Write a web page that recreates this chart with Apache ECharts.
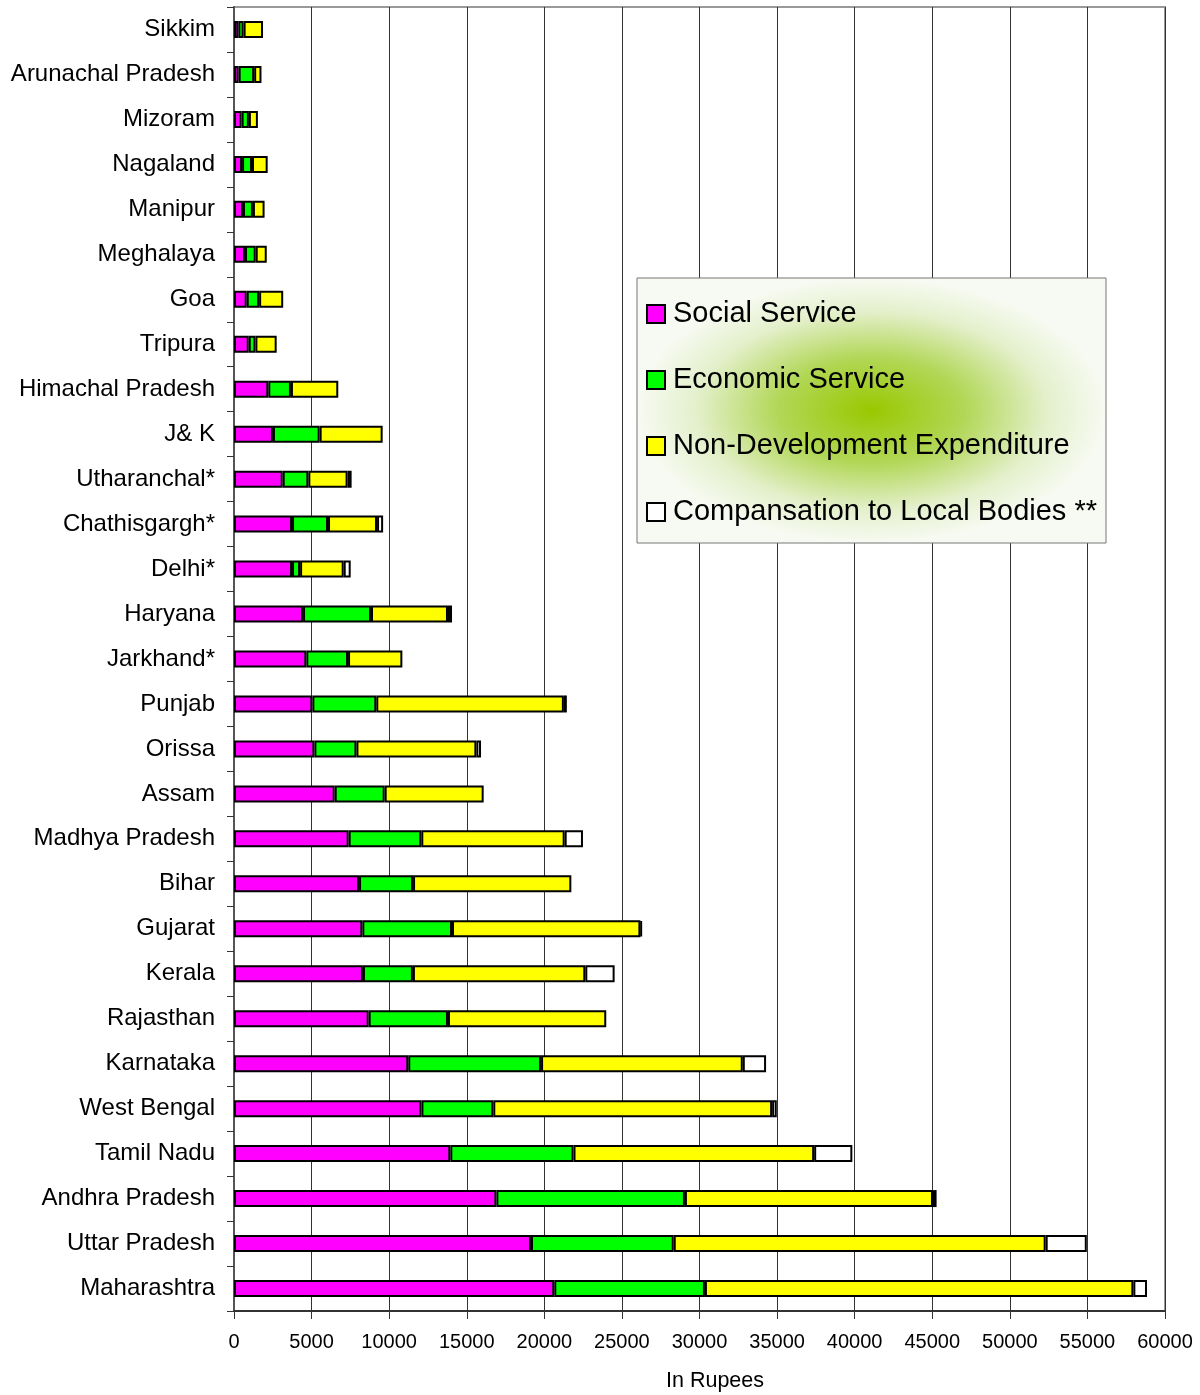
<!DOCTYPE html>
<html>
<head>
<meta charset="utf-8">
<title>State expenditure</title>
<script src="https://cdn.jsdelivr.net/npm/echarts@6/dist/echarts.min.js"></script>
<style>
  html, body { margin: 0; padding: 0; background: #fff; }
  #main { width: 1200px; height: 1395px; }
</style>
</head>
<body>
<div id="main"></div>
<script>
// states, top to bottom as in the picture
var states = ['Sikkim', 'Arunachal Pradesh', 'Mizoram', 'Nagaland', 'Manipur', 'Meghalaya', 'Goa', 'Tripura',
  'Himachal Pradesh', 'J& K', 'Utharanchal*', 'Chathisgargh*', 'Delhi*', 'Haryana', 'Jarkhand*', 'Punjab',
  'Orissa', 'Assam', 'Madhya Pradesh', 'Bihar', 'Gujarat', 'Kerala', 'Rajasthan', 'Karnataka', 'West Bengal',
  'Tamil Nadu', 'Andhra Pradesh', 'Uttar Pradesh', 'Maharashtra'];

var socialService = [280, 300, 490, 520, 580, 710, 820, 950, 2210, 2510, 3140, 3740, 3740, 4450, 4660, 5050,
  5180, 6490, 7390, 8060, 8270, 8310, 8680, 11230, 12080, 13940, 16910, 19140, 20640];
var economicService = [340, 1000, 470, 640, 640, 690, 800, 430, 1460, 3010, 1650, 2320, 520, 4380, 2690, 4120,
  2710, 3220, 4680, 3480, 5780, 3220, 5110, 8560, 4630, 7940, 12150, 9200, 9710];
var nonDevelopment = [1250, 470, 580, 1010, 750, 710, 1550, 1370, 3050, 4060, 2530, 3160, 2810, 4960, 3500, 12090,
  7730, 6380, 9240, 10200, 12140, 11110, 10200, 13000, 17970, 15510, 15990, 23970, 27610];
var compensation = [0, 0, 0, 0, 0, 0, 0, 0, 0, 0, 260, 390, 450, 260, 0, 190,
  300, 0, 1180, 0, 100, 1890, 0, 1500, 300, 2460, 230, 2650, 880];

var seriesNames = ['Social Service', 'Economic Service', 'Non-Development Expenditure', 'Compansation to Local Bodies **'];
var seriesColors = ['#ff00ff', '#00ff00', '#ffff00', '#ffffff'];
var xTicks = { min: 0, max: 60000, interval: 5000 };

var font = '"Liberation Sans", Arial, Helvetica, sans-serif';

function makeSeries(name, values, color) {
  return {
    name: name,
    type: 'bar',
    stack: 'total',
    barWidth: 17,
    itemStyle: { color: color, borderColor: '#000', borderWidth: 2 },
    emphasis: { disabled: true },
    data: values.map(function (v) { return v === 0 ? null : v; })
  };
}

var chart = echarts.init(document.getElementById('main'));

// legend box: elliptical green glow fading out to near white
var box = { x: 637, y: 278, w: 469, h: 265 };

chart.setOption({
  animation: false,
  textStyle: { fontFamily: font, color: '#000' },
  grid: {
    left: 234, right: 35, top: 7, bottom: 84,
    outerBoundsMode: 'none',
    containLabel: false,
    show: true, borderColor: '#999', borderWidth: 2, backgroundColor: 'transparent'
  },
  graphic: [{
    type: 'rect',
    z: 3,
    x: box.x,
    y: box.y,
    scaleX: box.w / box.h,
    shape: { x: 0, y: 0, width: box.h, height: box.h },
    style: {
      fill: {
        type: 'radial', x: 0.5, y: 0.5, r: 0.5,
        colorStops: [
          { offset: 0, color: '#99c800' },
          { offset: 0.4, color: '#b2d758' },
          { offset: 0.75, color: '#e4f0cc' },
          { offset: 1, color: '#f7faf2' }
        ]
      }
    }
  }, {
    type: 'rect',
    z: 3,
    shape: { x: box.x, y: box.y, width: box.w, height: box.h },
    style: { fill: null, stroke: '#777', lineWidth: 1 }
  }],
  legend: {
    orient: 'vertical',
    left: 646,
    top: 299,
    itemWidth: 18,
    itemHeight: 18,
    itemGap: 36,
    icon: 'rect',
    padding: 0,
    itemStyle: { borderColor: '#000', borderWidth: 2 },
    textStyle: { fontFamily: font, fontSize: 29, lineHeight: 30, color: '#000', padding: [0, 0, 0, 3] },
    data: seriesNames
  },
  xAxis: {
    type: 'value',
    min: xTicks.min,
    max: xTicks.max,
    interval: xTicks.interval,
    name: 'In Rupees',
    nameLocation: 'middle',
    nameGap: 59,
    nameTextStyle: { fontFamily: font, fontSize: 21.5, color: '#000', padding: [0, 0, 0, 31] },
    axisLine: { show: true, lineStyle: { color: '#333', width: 2 } },
    axisTick: { show: true, length: 8, lineStyle: { color: '#333', width: 1 } },
    axisLabel: {
      fontFamily: font, fontSize: 20, color: '#000', margin: 21,
      formatter: function (v) { return String(v); }
    },
    splitLine: { show: true, lineStyle: { color: '#333', width: 1 } }
  },
  yAxis: {
    type: 'category',
    inverse: true,
    data: states,
    name: 'States',
    nameLocation: 'middle',
    nameGap: 211,
    nameTextStyle: { fontFamily: font, fontSize: 13, color: '#000' },
    axisLine: { show: true, lineStyle: { color: '#555', width: 2 } },
    axisTick: { show: true, length: 7, lineStyle: { color: '#333', width: 1 } },
    axisLabel: { fontFamily: font, fontSize: 24, color: '#000', margin: 19 },
    splitLine: { show: false }
  },
  series: [
    makeSeries(seriesNames[0], socialService, seriesColors[0]),
    makeSeries(seriesNames[1], economicService, seriesColors[1]),
    makeSeries(seriesNames[2], nonDevelopment, seriesColors[2]),
    makeSeries(seriesNames[3], compensation, seriesColors[3])
  ]
});
</script>
</body>
</html>
